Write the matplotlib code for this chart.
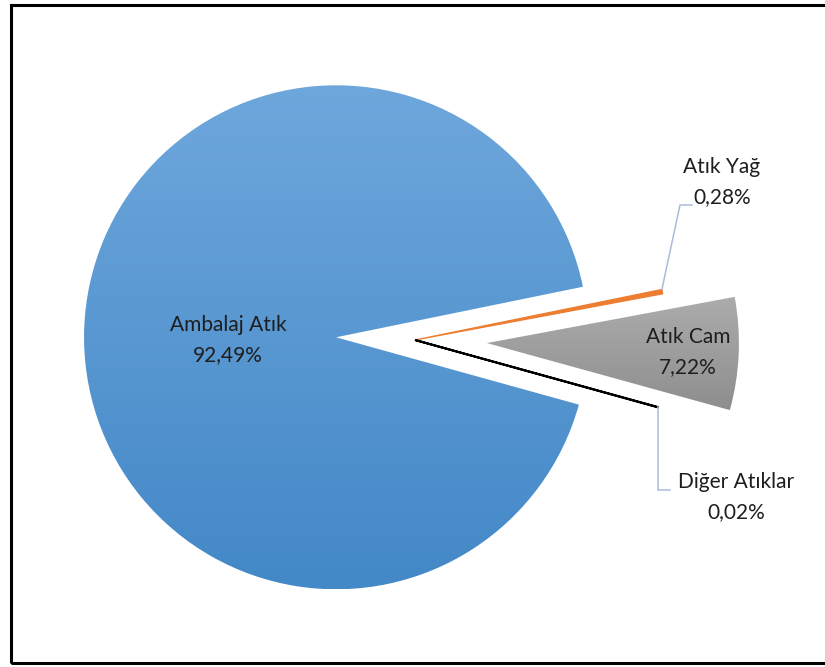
import numpy as np
import matplotlib.pyplot as plt
from matplotlib.patches import Rectangle
from matplotlib.colors import LinearSegmentedColormap

plt.rcParams['font.family'] = ['Lato', 'DejaVu Sans']

labels = ["Ambalaj Atık", "Atık Yağ", "Atık Cam", "Diğer Atıklar"]
shares = [92.49, 0.28, 7.22, 0.02]
pct_text = ["92,49%", "0,28%", "7,22%", "0,02%"]

W, H = 825, 667
fig = plt.figure(figsize=(W / 100, H / 100), dpi=100)
ax = fig.add_axes([0, 0, 1, 1])

# explode offsets are in data units (pixels here)
cx, cy, R = 415, 327, 252
wedges, _ = ax.pie(shares, explode=[79, 0, 72, 0], center=(cx, cy), radius=R,
                   startangle=-15.5, counterclock=False,
                   colors=["#5b9bd5", "#ed7d31", "#a5a5a5", "#000000"],
                   frame=True)

# thin slices need an outline to show at all
wedges[1].set_edgecolor("#ed7d31")
wedges[1].set_linewidth(0.9)
wedges[3].set_edgecolor("#000000")
wedges[3].set_linewidth(1.5)

# vertical gradient fills for the two big slices
def gradient_fill(wedge, top, bottom):
    bb = wedge.get_path().get_extents(wedge.get_patch_transform())
    cmap = LinearSegmentedColormap.from_list("g", [bottom, top])
    grad = np.linspace(0, 1, 256).reshape(-1, 1)
    im = ax.imshow(grad, cmap=cmap, origin='lower', aspect='auto',
                   extent=[bb.x0, bb.x1, bb.y0, bb.y1], zorder=wedge.get_zorder())
    im.set_clip_path(wedge)
    wedge.set_facecolor("none")

gradient_fill(wedges[0], "#6ea7dc", "#4388c7")
gradient_fill(wedges[2], "#acacac", "#8e8e8e")

ax.set_xlim(0, W)
ax.set_ylim(0, H)
ax.set_aspect('equal')
ax.axis('off')

fs = 15
tc = "#1e1e1e"
ax.text(228, 327, labels[0] + "\n" + pct_text[0], ha='center', va='center',
        fontsize=fs, color=tc, linespacing=1.6)
ax.text(688, 315, labels[2] + "\n" + pct_text[2], ha='center', va='center',
        fontsize=fs, color=tc, linespacing=1.6)

# outer tips of the two small slices for the leader lines
def outer_point(wedge, angle):
    x0, y0 = wedge.center
    a = np.deg2rad(angle)
    return x0 + wedge.r * np.cos(a), y0 + wedge.r * np.sin(a)

lead = "#a9bcdc"
px, py = outer_point(wedges[1], wedges[1].theta2)
ax.plot([px, 680, 692], [py, 462, 462], color=lead, lw=1.1, zorder=1)
ax.text(722, 485, labels[1] + "\n" + pct_text[1], ha='center', va='center',
        fontsize=fs, color=tc, linespacing=1.6)

qx, qy = outer_point(wedges[3], wedges[3].theta1)
ax.plot([qx, qx, qx + 12], [qy, 177, 177], color=lead, lw=1.1, zorder=1)
ax.text(736, 170, labels[3] + "\n" + pct_text[3], ha='center', va='center',
        fontsize=fs, color=tc, linespacing=1.6)

# chart border
ax.add_patch(Rectangle((11, 4), 900, 658, fill=False, edgecolor="black",
                       linewidth=2.2, zorder=5))

fig.savefig("out.png", dpi=100)
